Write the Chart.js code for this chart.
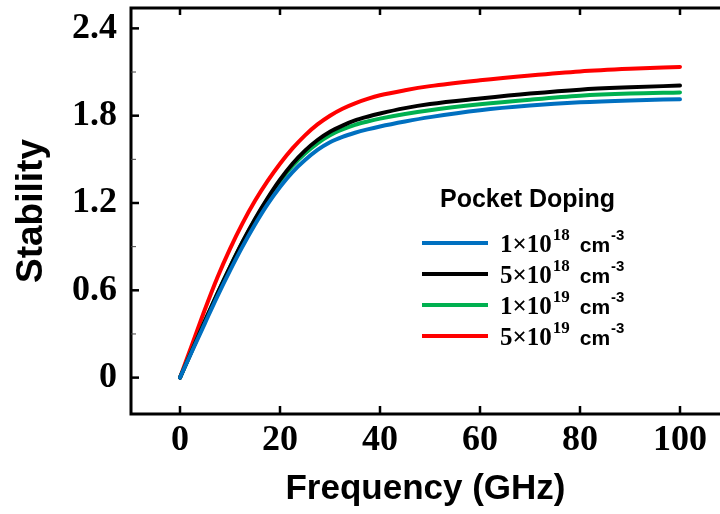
<!DOCTYPE html>
<html>
<head>
<meta charset="utf-8">
<script src="https://cdn.jsdelivr.net/npm/chart.js@4.4.1/dist/chart.umd.min.js"></script>
<style>
  html, body { margin: 0; padding: 0; background: #fff; }
  #wrap { width: 720px; height: 514px; }
</style>
</head>
<body>
<div id="wrap"><canvas id="stabChart" width="720" height="514"></canvas></div>
<script>
// frequency points (GHz)
var freq = [0, 2.5, 5, 7.5, 10, 12.5, 15, 17.5, 20, 22.5, 25, 27.5, 30, 32.5, 35, 37.5, 40, 45, 50, 60, 70, 80, 90, 100];

// stability, one array per pocket doping
var dop1e18 = [0, 0.188, 0.375, 0.56, 0.735, 0.9, 1.052, 1.19, 1.31, 1.412, 1.495, 1.565, 1.618, 1.655, 1.683, 1.706, 1.726, 1.76, 1.79, 1.838, 1.87, 1.892, 1.905, 1.913];
var dop5e18 = [0, 0.195, 0.39, 0.58, 0.76, 0.932, 1.09, 1.232, 1.36, 1.47, 1.56, 1.633, 1.69, 1.732, 1.767, 1.793, 1.815, 1.852, 1.88, 1.918, 1.952, 1.979, 1.995, 2.007];
var dop1e19 = [0, 0.195, 0.39, 0.58, 0.76, 0.93, 1.085, 1.225, 1.35, 1.455, 1.54, 1.61, 1.665, 1.705, 1.737, 1.76, 1.78, 1.812, 1.838, 1.878, 1.91, 1.937, 1.952, 1.96];
var dop5e19 = [0, 0.235, 0.47, 0.69, 0.885, 1.06, 1.215, 1.35, 1.47, 1.575, 1.665, 1.74, 1.8, 1.848, 1.885, 1.915, 1.94, 1.975, 2.003, 2.043, 2.076, 2.104, 2.122, 2.135];

// legend text pieces
var mantissa = ['1', '5', '1', '5'];
var exponent = ['18', '18', '19', '19'];
var colors = ['#0070C0', '#000000', '#00B050', '#FF0000'];

// tick labels
var xTicks = [0, 20, 40, 60, 80, 100];
var yTicks = [0, 0.6, 1.2, 1.8, 2.4];
var yMinor = [0.3, 0.9, 1.5, 2.1];

var series = [dop1e18, dop5e18, dop1e19, dop5e19];

function pts(ys) {
    return freq.map(function (f, i) { return {x: f, y: ys[i]}; });
}

var datasets = series.map(function (s, i) {
    return {
        label: mantissa[i] + '×10^' + exponent[i] + ' cm^-3',
        data: pts(s),
        borderColor: colors[i],
        borderWidth: 4,
        pointRadius: 0,
        fill: false,
        cubicInterpolationMode: 'monotone',
        borderCapStyle: 'round'
    };
});

var serifFam = '"Liberation Serif", "Times New Roman", serif';
var sansFam = '"Liberation Sans", Arial, sans-serif';

// frame, inward ticks and the legend
var framePlugin = {
    id: 'frame',
    afterDatasetsDraw: function (chart) {
        var ctx = chart.ctx, a = chart.chartArea;
        var xs = chart.scales.x, ys = chart.scales.y;
        ctx.save();
        ctx.strokeStyle = '#000';
        ctx.lineWidth = 3;
        ctx.beginPath();
        ctx.moveTo(a.right + 2, a.top);
        ctx.lineTo(a.left, a.top);
        ctx.lineTo(a.left, a.bottom);
        ctx.lineTo(a.right + 2, a.bottom);
        ctx.stroke();

        ctx.lineWidth = 2.5;
        xTicks.forEach(function (t) {
            var px = xs.getPixelForValue(t);
            ctx.beginPath();
            ctx.moveTo(px, a.bottom);
            ctx.lineTo(px, a.bottom - 8);
            ctx.moveTo(px, a.top);
            ctx.lineTo(px, a.top + 7);
            ctx.stroke();
        });
        yTicks.forEach(function (t) {
            var py = ys.getPixelForValue(t);
            ctx.beginPath();
            ctx.moveTo(a.left, py);
            ctx.lineTo(a.left + 8, py);
            ctx.stroke();
        });
        ctx.lineWidth = 1;
        ctx.strokeStyle = '#444';
        yMinor.forEach(function (t) {
            var py = ys.getPixelForValue(t);
            ctx.beginPath();
            ctx.moveTo(a.left, py);
            ctx.lineTo(a.left + 5, py);
            ctx.stroke();
        });

        // legend
        ctx.fillStyle = '#000';
        ctx.textBaseline = 'alphabetic';
        ctx.textAlign = 'left';
        ctx.font = 'bold 25px ' + sansFam;
        ctx.fillText('Pocket Doping', 440, 207);

        var rowY = [243, 274, 305, 336];
        for (var i = 0; i < series.length; i++) {
            var y = rowY[i];
            ctx.strokeStyle = colors[i];
            ctx.lineWidth = 4;
            ctx.beginPath();
            ctx.moveTo(422, y);
            ctx.lineTo(488, y);
            ctx.stroke();

            var base = y + 9;
            var x = 500;
            ctx.font = 'bold 25px ' + serifFam;
            var t1 = mantissa[i] + '×10';
            ctx.fillText(t1, x, base);
            x += ctx.measureText(t1).width + 1;
            ctx.font = 'bold 17px ' + serifFam;
            ctx.fillText(exponent[i], x, base - 12);
            x += ctx.measureText(exponent[i]).width + 10;
            ctx.font = 'bold 21px ' + sansFam;
            ctx.fillText('cm', x, base);
            x += ctx.measureText('cm').width + 1;
            ctx.font = 'bold 15px ' + sansFam;
            ctx.fillText('-3', x, base - 12);
        }
        ctx.restore();
    }
};

var ctx = document.getElementById('stabChart').getContext('2d');
new Chart(ctx, {
    type: 'line',
    data: {datasets: datasets},
    options: {
        responsive: false,
        animation: false,
        layout: {padding: {top: 8, right: 0, left: 0, bottom: 0}},
        plugins: {legend: {display: false}, tooltip: {enabled: false}},
        scales: {
            x: {
                type: 'linear',
                min: -9.8,
                max: 108,
                grid: {display: false, drawTicks: false},
                border: {display: false},
                afterBuildTicks: function (s) { s.ticks = xTicks.map(function (v) { return {value: v}; }); },
                afterFit: function (s) { s.height = 100; s.paddingLeft = 0; s.paddingRight = 0; },
                ticks: {
                    autoSkip: false,
                    maxRotation: 0,
                    padding: 5,
                    color: '#000',
                    font: {family: serifFam, size: 36, weight: 'bold'}
                },
                title: {
                    display: true,
                    text: 'Frequency (GHz)',
                    color: '#000',
                    padding: {top: 0, bottom: 4},
                    font: {family: sansFam, size: 35, weight: 'bold'}
                }
            },
            y: {
                type: 'linear',
                min: -0.25,
                max: 2.54,
                grid: {display: false, drawTicks: false},
                border: {display: false},
                afterBuildTicks: function (s) { s.ticks = yTicks.map(function (v) { return {value: v}; }); },
                afterFit: function (s) { s.width = 131; s.paddingTop = 0; s.paddingBottom = 0; },
                ticks: {
                    autoSkip: false,
                    padding: 14,
                    color: '#000',
                    font: {family: serifFam, size: 36, weight: 'bold'},
                    callback: function (v) { return v === 0 ? '0' : v.toFixed(1); }
                },
                title: {
                    display: true,
                    text: 'Stability',
                    color: '#000',
                    padding: {top: 10, bottom: 0},
                    font: {family: sansFam, size: 37, weight: 'bold'}
                }
            }
        }
    },
    plugins: [framePlugin]
});
</script>
</body>
</html>
